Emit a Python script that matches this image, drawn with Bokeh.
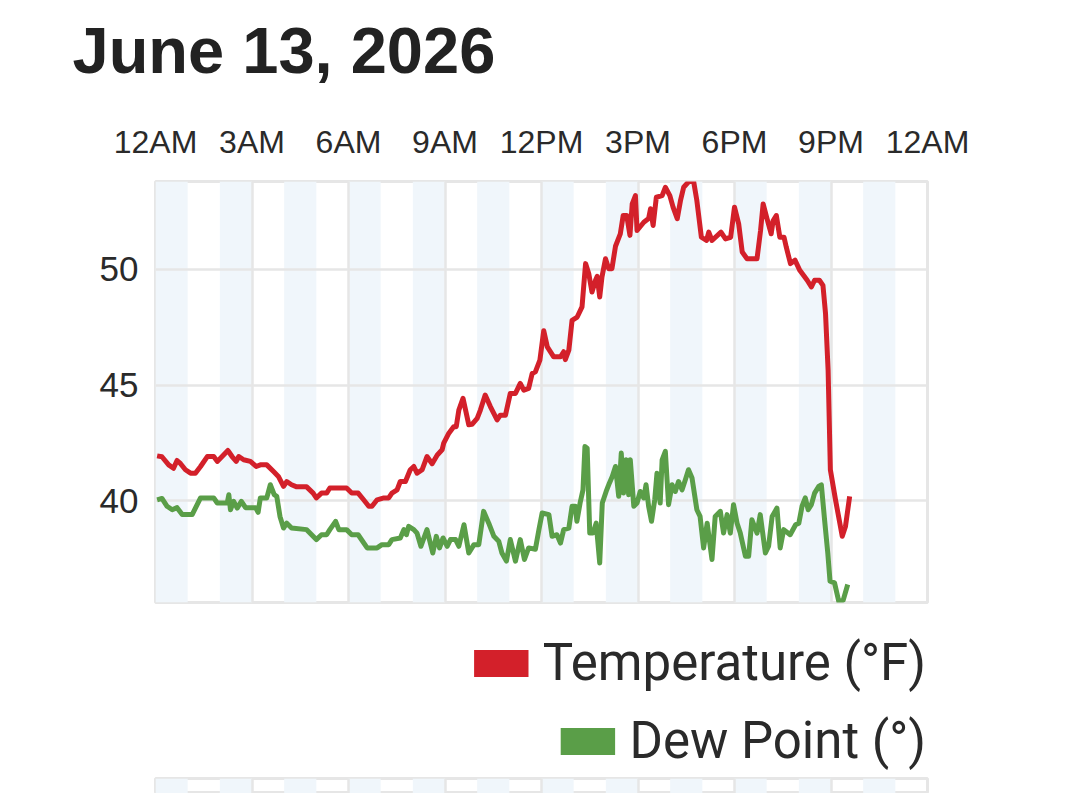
from bokeh.plotting import figure
from bokeh.models import FixedTicker, Range1d, Legend, LegendItem, ColumnDataSource, Label
from bokeh.layouts import column
from bokeh.embed import file_html
from bokeh.resources import INLINE

title_text = "June 13, 2026"
tick_hours = [0, 3, 6, 9, 12, 15, 18, 21, 24]
tick_labels = ["12AM", "3AM", "6AM", "9AM", "12PM", "3PM", "6PM", "9PM", "12AM"]
y_ticks = [40, 45, 50]
shaded_hours = [0, 2, 4, 6, 8, 10, 12, 14, 16, 18, 20, 22]
series_labels = ["Temperature (°F)", "Dew Point (°)"]

temp_hours = [0.05, 0.2, 0.41, 0.56, 0.67, 0.78, 0.93, 1.09, 1.24, 1.4, 1.61, 1.81, 1.92, 2.07, 2.25,
              2.38, 2.51, 2.59, 2.74, 2.95, 3.13, 3.26, 3.46, 3.67, 3.82, 3.98, 4.08, 4.23, 4.39, 4.7,
              4.9, 5.0, 5.16, 5.32, 5.42, 5.94, 6.1, 6.3, 6.47, 6.63, 6.73, 6.89, 7.1, 7.25, 7.35,
              7.51, 7.61, 7.77, 7.92, 8.03, 8.13, 8.29, 8.44, 8.6, 8.76, 8.91, 8.96, 9.12, 9.27, 9.35,
              9.43, 9.56, 9.74, 9.84, 10.0, 10.1, 10.25, 10.41, 10.62, 10.72, 10.88, 11.03, 11.19, 11.34, 11.45,
              11.6, 11.71, 11.81, 11.95, 12.07, 12.18, 12.38, 12.59, 12.69, 12.74, 12.85, 12.95, 13.11, 13.26, 13.37,
              13.47, 13.57, 13.68, 13.73, 13.81, 13.88, 13.99, 14.09, 14.19, 14.3, 14.45, 14.54, 14.65, 14.75, 14.82,
              14.92, 14.97, 15.18, 15.33, 15.39, 15.47, 15.57, 15.75, 15.85, 15.99, 16.09, 16.22, 16.32, 16.42, 16.58,
              16.73, 16.83, 16.97, 17.13, 17.2, 17.3, 17.58, 17.72, 17.88, 18.0, 18.13, 18.24, 18.39, 18.7, 18.81,
              18.89, 19.01, 19.14, 19.2, 19.3, 19.41, 19.54, 19.61, 19.74, 19.88, 20.03, 20.26, 20.39, 20.49, 20.64,
              20.75, 20.83, 20.91, 20.98, 21.14, 21.35, 21.45, 21.58]
temp_f = [41.94, 41.9, 41.55, 41.4, 41.74, 41.6, 41.34, 41.19, 41.19, 41.48, 41.91, 41.91, 41.7, 41.91, 42.17,
          41.91, 41.7, 41.91, 41.77, 41.7, 41.48, 41.55, 41.55, 41.26, 41.05, 40.62, 40.83, 40.69, 40.6, 40.6,
          40.33, 40.12, 40.33, 40.33, 40.55, 40.55, 40.33, 40.33, 40.04, 39.76, 39.76, 40.04, 40.12, 40.12, 40.33,
          40.47, 40.83, 40.83, 41.34, 41.48, 41.19, 41.34, 41.91, 41.6, 41.98, 42.2, 42.49, 42.92, 43.2, 43.2,
          43.92, 44.43, 43.28, 43.3, 43.56, 43.92, 44.57, 44.07, 43.49, 43.7, 43.7, 44.64, 44.64, 45.07, 44.78,
          44.86, 45.5, 45.57, 46.08, 47.35, 46.65, 46.22, 46.22, 46.44, 46.1, 46.51, 47.8, 47.94, 48.38, 50.25,
          49.81, 49.02, 49.53, 49.7, 48.81, 49.67, 50.46, 50.03, 50.03, 51.0, 51.54, 52.33, 52.33, 51.47, 52.83,
          53.19, 51.68, 52.04, 52.2, 52.62, 51.9, 53.12, 53.19, 53.55, 53.19, 52.69, 52.19, 52.97, 53.55, 53.8,
          53.8, 52.97, 51.39, 51.25, 51.61, 51.25, 51.61, 51.32, 51.39, 52.69, 51.97, 50.75, 50.46, 50.46, 51.68,
          52.83, 52.19, 51.54, 52.1, 52.33, 51.39, 51.39, 50.96, 50.25, 50.4, 49.96, 49.53, 49.24, 49.53, 49.53,
          49.31, 48.09, 45.65, 41.34, 40.04, 38.46, 38.89, 40.19]

dew_hours = [0.05, 0.2, 0.36, 0.52, 0.67, 0.83, 1.14, 1.4, 1.81, 1.92, 2.23, 2.28, 2.33, 2.43, 2.54,
             2.67, 2.8, 3.11, 3.19, 3.26, 3.46, 3.57, 3.69, 3.77, 3.87, 3.98, 4.08, 4.23, 4.7, 5.0,
             5.16, 5.32, 5.42, 5.6, 5.7, 5.94, 6.1, 6.3, 6.58, 6.89, 7.04, 7.25, 7.35, 7.61, 7.72,
             7.8, 7.87, 8.03, 8.13, 8.25, 8.44, 8.62, 8.73, 8.83, 8.94, 9.07, 9.17, 9.33, 9.43, 9.59,
             9.74, 9.9, 10.05, 10.2, 10.36, 10.52, 10.67, 10.77, 10.91, 11.03, 11.19, 11.34, 11.47, 11.6, 11.81,
             11.92, 12.02, 12.23, 12.33, 12.48, 12.59, 12.69, 12.85, 12.95, 13.05, 13.1, 13.2, 13.29, 13.35, 13.42,
             13.5, 13.6, 13.7, 13.81, 13.89, 14.01, 14.11, 14.2, 14.3, 14.4, 14.48, 14.55, 14.63, 14.71, 14.76,
             14.87, 14.97, 15.07, 15.18, 15.25, 15.33, 15.42, 15.52, 15.59, 15.69, 15.75, 15.85, 15.95, 16.06, 16.16,
             16.26, 16.37, 16.47, 16.57, 16.68, 16.83, 16.93, 17.04, 17.15, 17.3, 17.4, 17.56, 17.66, 17.77, 17.87,
             17.97, 18.08, 18.18, 18.34, 18.44, 18.54, 18.7, 18.8, 18.96, 19.06, 19.17, 19.32, 19.42, 19.53, 19.73,
             19.9, 20.0, 20.1, 20.2, 20.29, 20.39, 20.49, 20.62, 20.7, 20.8, 20.9, 20.97, 21.11, 21.25, 21.38,
             21.52]
dew_f = [40.04, 40.1, 39.76, 39.61, 39.7, 39.4, 39.4, 40.12, 40.12, 39.9, 39.9, 40.26, 39.61, 39.97, 39.68,
         39.97, 39.7, 39.7, 39.5, 40.12, 40.12, 40.69, 40.26, 40.19, 39.32, 38.82, 39.03, 38.82, 38.75, 38.32,
         38.53, 38.53, 38.75, 39.11, 38.75, 38.75, 38.53, 38.53, 37.96, 37.96, 38.1, 38.1, 38.32, 38.39, 38.75,
         38.53, 38.89, 38.75, 38.6, 38.03, 38.75, 37.74, 38.46, 37.96, 38.39, 38.03, 38.32, 38.32, 38.03, 38.96,
         37.74, 38.1, 38.1, 39.54, 39.03, 38.46, 38.25, 37.74, 37.39, 38.32, 37.39, 38.32, 37.46, 37.96, 37.9,
         38.75, 39.47, 39.4, 38.46, 38.53, 38.17, 38.75, 38.82, 39.76, 39.76, 39.11, 39.9, 40.47, 42.34, 42.27,
         38.6, 38.6, 39.03, 37.31, 39.9, 40.4, 40.76, 41.05, 41.48, 40.19, 42.06, 40.33, 41.77, 40.26, 41.77,
         39.76, 39.9, 40.4, 40.12, 40.69, 39.76, 39.11, 40.04, 41.19, 39.9, 41.77, 42.13, 39.83, 40.69, 40.4,
         40.83, 40.47, 40.9, 41.34, 40.98, 39.61, 39.32, 37.96, 39.03, 37.46, 39.32, 39.54, 38.6, 39.4, 38.6,
         39.83, 39.03, 38.6, 37.6, 37.6, 39.18, 38.6, 39.4, 37.74, 38.03, 39.32, 39.68, 37.96, 38.75, 38.53,
         38.96, 39.03, 39.76, 40.12, 39.61, 39.83, 40.33, 40.62, 40.69, 39.18, 37.74, 36.52, 36.45, 35.6, 35.7,
         36.38]

TEMP_COLOR = "#d3202a"
DEW_COLOR = "#5a9e48"
GRID_COLOR = "#e6e6e6"
STRIPE_COLOR = "#f0f6fb"
TEXT_COLOR = "#2a2a2a"

y_lo = min(dew_f + temp_f)
y_hi = max(dew_f + temp_f)
nan = float("nan")

FW = 772
FH = 421
LEFT = 155
RIGHT = 140
TOTAL_W = LEFT + FW + RIGHT
TITLE_H = 100

# title strip
pt = figure(frame_width=TOTAL_W, frame_height=TITLE_H, x_range=Range1d(0, TOTAL_W), y_range=Range1d(0, TITLE_H),
            x_axis_location=None, y_axis_location=None, title_location=None,
            output_backend="svg", toolbar_location=None, frame_align=False,
            min_border_left=0, min_border_right=0, min_border_top=0, min_border_bottom=0,
            outline_line_color=None)
pt.grid.visible = False
pt.add_layout(Label(x=72, y=TITLE_H - 50, x_units="data", y_units="data", text=title_text,
                    text_font="Liberation Sans", text_font_style="bold", text_font_size="65px",
                    text_color="#222222", text_baseline="alphabetic", text_align="left"))

p = figure(frame_width=FW, frame_height=FH, x_range=Range1d(0, 24), y_range=Range1d(y_lo, y_hi),
           x_axis_location="above", title_location=None, output_backend="svg", toolbar_location=None,
           min_border_left=LEFT, min_border_right=RIGHT, min_border_top=181 - TITLE_H, min_border_bottom=2,
           background_fill_color="white", border_fill_color="white")

stripe_src = ColumnDataSource(dict(left=shaded_hours, right=[h + 1 for h in shaded_hours],
                                   bottom=[y_lo] * len(shaded_hours), top=[y_hi] * len(shaded_hours)))
p.quad(left="left", right="right", bottom="bottom", top="top", source=stripe_src,
       fill_color=STRIPE_COLOR, line_color=None, level="image")

p.line(temp_hours, temp_f, line_color=TEMP_COLOR, line_width=5, line_join="round")
p.line(dew_hours, dew_f, line_color=DEW_COLOR, line_width=5, line_join="round")

p.xaxis.ticker = FixedTicker(ticks=tick_hours)
p.xaxis.major_label_overrides = {h: l for h, l in zip(tick_hours, tick_labels)}
p.yaxis.ticker = FixedTicker(ticks=y_ticks)
for ax in (p.xaxis, p.yaxis):
    ax.axis_line_color = None
    ax.major_tick_line_color = None
    ax.minor_tick_line_color = None
    ax.major_tick_out = 0
    ax.major_tick_in = 0
    ax.major_label_text_font = "Liberation Sans"
    ax.major_label_text_color = TEXT_COLOR
p.xaxis.major_label_text_font_size = "32px"
p.yaxis.major_label_text_font_size = "35px"
p.xaxis.major_label_standoff = 22
p.yaxis.major_label_standoff = 17

p.xgrid.ticker = FixedTicker(ticks=tick_hours)
p.ygrid.ticker = FixedTicker(ticks=y_ticks)
p.grid.grid_line_color = GRID_COLOR
p.grid.grid_line_width = 2.5
p.outline_line_color = GRID_COLOR
p.outline_line_width = 3

# legend area
pl = figure(frame_width=FW, frame_height=139, x_range=Range1d(0, 1), y_range=Range1d(0, 1),
            x_axis_location=None, y_axis_location=None, title_location=None,
            output_backend="svg", toolbar_location=None,
            min_border_left=LEFT, min_border_right=RIGHT, min_border_top=28, min_border_bottom=0,
            outline_line_color=None)
pl.grid.visible = False
sw_t = pl.quad(left=[nan], right=[nan], bottom=[nan], top=[nan], fill_color=TEMP_COLOR, line_color=None)
sw_d = pl.quad(left=[nan], right=[nan], bottom=[nan], top=[nan], fill_color=DEW_COLOR, line_color=None)
for sw, label, loc in ((sw_t, series_labels[0], "top_right"), (sw_d, series_labels[1], "bottom_right")):
    leg = Legend(items=[LegendItem(label=label, renderers=[sw])], location=loc,
                 glyph_width=68, glyph_height=34, label_standoff=8, padding=0, margin=1,
                 border_line_color=None, background_fill_alpha=0,
                 label_text_font="Roboto", label_text_font_size="51px", label_text_color=TEXT_COLOR)
    pl.add_layout(leg)

# top edge of the next chart
p2 = figure(frame_width=FW, frame_height=15, x_range=Range1d(0, 24), y_range=Range1d(0, 1),
            x_axis_location=None, y_axis_location=None, title_location=None,
            output_backend="svg", toolbar_location=None,
            min_border_left=LEFT, min_border_right=RIGHT, min_border_top=7, min_border_bottom=0)
stripe_src2 = ColumnDataSource(dict(left=shaded_hours, right=[h + 1 for h in shaded_hours],
                                    bottom=[0] * len(shaded_hours), top=[1] * len(shaded_hours)))
p2.quad(left="left", right="right", bottom="bottom", top="top", source=stripe_src2,
        fill_color=STRIPE_COLOR, line_color=None, level="image")
p2.xgrid.ticker = FixedTicker(ticks=tick_hours)
p2.ygrid.visible = False
p2.grid.grid_line_color = GRID_COLOR
p2.grid.grid_line_width = 2.5
p2.outline_line_color = GRID_COLOR
p2.outline_line_width = 3

layout = column(pt, p, pl, p2, spacing=0)
open("out.html", "w").write(file_html(layout, INLINE))
